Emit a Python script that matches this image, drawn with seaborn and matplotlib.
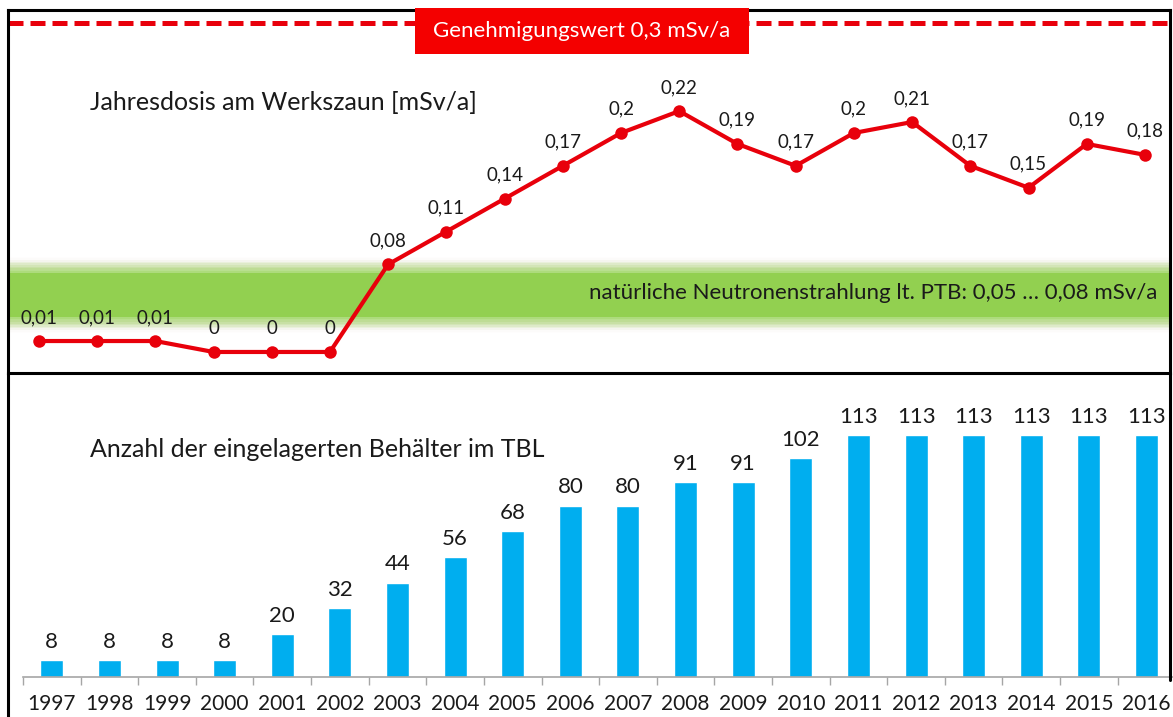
import numpy as np
import pandas as pd
import matplotlib
matplotlib.use("Agg")
import matplotlib.pyplot as plt
from matplotlib.lines import Line2D
from matplotlib.patches import Rectangle
import seaborn as sns

# ---- data ----
years = [1997, 1998, 1999, 2000, 2001, 2002, 2003, 2004, 2005, 2006,
         2007, 2008, 2009, 2010, 2011, 2012, 2013, 2014, 2015, 2016]
dose = [0.01, 0.01, 0.01, 0.0, 0.0, 0.0, 0.08, 0.11, 0.14, 0.17,
        0.20, 0.22, 0.19, 0.17, 0.20, 0.21, 0.17, 0.15, 0.19, 0.18]
casks = [8, 8, 8, 8, 20, 32, 44, 56, 68, 80,
         80, 91, 91, 102, 113, 113, 113, 113, 113, 113]
limit_value = 0.3
limit_label = "Genehmigungswert 0,3 mSv/a"
band_label = "natürliche Neutronenstrahlung lt. PTB: 0,05 … 0,08 mSv/a"
band_lo, band_hi = 0.032, 0.072   # visual position of the band in the picture
title_top = "Jahresdosis am Werkszaun [mSv/a]"
title_bottom = "Anzahl der eingelagerten Behälter im TBL"

sns.set_theme(style="white")
plt.rcParams['font.family'] = ['Lato', 'DejaVu Sans']

RED = "#e8000b"
BOXRED = "#f40000"
BLUE = "#00aeef"
GREEN = "#92d050"
TXT = "#1a1a1a"

W, H = 1173, 717
fig = plt.figure(figsize=(W / 100, H / 100), dpi=100)
fig.patch.set_facecolor("white")


def rect(l, t, r, b):
    return [l / W, 1 - b / H, (r - l) / W, (b - t) / H]


ax1 = fig.add_axes(rect(8, 10, 1170, 373))
ax2 = fig.add_axes(rect(23, 373, 1173, 677))

# ---- top panel ----
df1 = pd.DataFrame({"Jahr": years, "Dosis": dose})
# green band with soft edges
ax1.axhspan(band_lo, band_hi, color=GREEN, lw=0, zorder=0)
edge = 0.012
steps = 8
for i in range(steps):
    f0 = i / steps
    f1 = (i + 1) / steps
    a = 1 - (i + 0.5) / steps
    ax1.axhspan(band_hi + edge * f0, band_hi + edge * f1,
                color=GREEN, alpha=a * 0.8, lw=0, zorder=0)
    ax1.axhspan(band_lo - edge * f1, band_lo - edge * f0,
                color=GREEN, alpha=a * 0.8, lw=0, zorder=0)
    ax1.axhspan(band_hi + edge * f0 + 0.003, band_hi + edge * f1 + 0.003,
                color="#c09080", alpha=a * 0.18, lw=0, zorder=0)
    ax1.axhspan(band_lo - edge * f1 - 0.003, band_lo - edge * f0 - 0.003,
                color="#c09080", alpha=a * 0.18, lw=0, zorder=0)

ax1.axhline(limit_value, color=RED, lw=3.6, dashes=(3.0, 1.4), zorder=2)

sns.lineplot(data=df1, x="Jahr", y="Dosis", ax=ax1, color=RED, lw=3,
             marker="o", markersize=9, markeredgewidth=0, zorder=3)

for x, v in zip(years, dose):
    lab = f"{v:g}".replace(".", ",")
    ax1.annotate(lab, (x, v), xytext=(0, 17), textcoords="offset points",
                 ha="center", va="center", fontsize=13.5, color=TXT)

ax1.set_xlim(years[0] - 0.53, years[-1] + 0.43)
ax1.set_ylim(-0.0192, 0.3123)
ax1.set_xticks([])
ax1.set_yticks([])
ax1.set_xlabel("")
ax1.set_ylabel("")
for s in ax1.spines.values():
    s.set_color("black")
    s.set_linewidth(2.2)

# red label box
ax1.add_patch(Rectangle((0.350, 0.879), 0.288, 0.127, transform=ax1.transAxes,
                        facecolor=BOXRED, edgecolor="none", zorder=5, clip_on=False))
ax1.text(0.350 + 0.144, 0.9425, limit_label, transform=ax1.transAxes,
         ha="center", va="center", color="white", fontsize=16, zorder=6)

ax1.text(0.0706, 0.744, title_top, transform=ax1.transAxes, ha="left",
         va="center", fontsize=18, color=TXT)
ax1.text(0.989, 0.220, band_label, transform=ax1.transAxes, ha="right",
         va="center", fontsize=16, color=TXT, zorder=4)

# ---- bottom panel ----
df2 = pd.DataFrame({"Jahr": [str(y) for y in years], "Anzahl": casks})
sns.barplot(data=df2, x="Jahr", y="Anzahl", ax=ax2, color=BLUE,
            saturation=1, width=0.4)
ax2.bar_label(ax2.containers[0], labels=[str(c) for c in casks], padding=6,
              fontsize=16, color=TXT)

ax2.set_xlim(-0.5, 19.46)
ax2.set_ylim(0, 141.9)
ax2.set_yticks([])
ax2.set_xlabel("")
ax2.set_ylabel("")
ax2.set_xticks(range(len(years)))
ax2.set_xticklabels([str(y) for y in years], fontsize=15, color=TXT)
ax2.set_xticks(np.arange(-0.5, len(years) - 0.5, 1), minor=True)
ax2.tick_params(axis="x", which="major", length=0, pad=12.5)
ax2.tick_params(axis="x", which="minor", length=6, width=1, color="#a6a6a6",
                direction="out", bottom=True)
for k in ["top", "left", "right"]:
    ax2.spines[k].set_visible(False)
ax2.spines["bottom"].set_color("#a6a6a6")
ax2.spines["bottom"].set_linewidth(1.2)
ax2.patch.set_alpha(0)

ax2.text(0.0583, 0.747, title_bottom, transform=ax2.transAxes, ha="left",
         va="center", fontsize=18, color=TXT)

# outer frame continuation
fig.add_artist(Line2D([8 / W, 8 / W], [1 - 373 / H, 0], color="black", lw=2.2))
fig.add_artist(Line2D([1170 / W, 1170 / W], [1 - 373 / H, 1 - 680 / H],
                      color="black", lw=2.2))

fig.savefig("out.png", dpi=100, facecolor="white")
